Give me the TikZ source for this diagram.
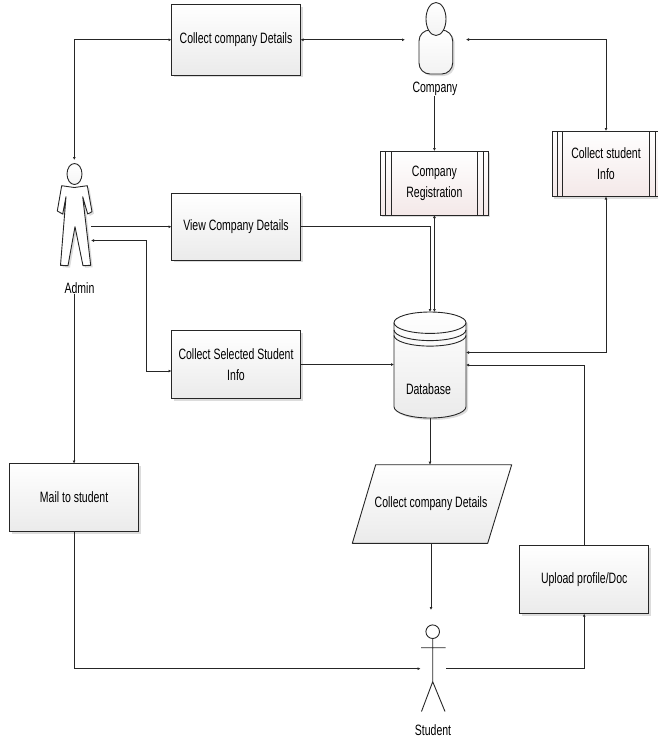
\documentclass[tikz,border=0pt]{standalone}
\usepackage{fontspec}
\setmainfont{Liberation Sans}[FakeStretch=0.7]
\usepackage{tikz}
\usetikzlibrary{arrows.meta,positioning,shadows}

\begin{document}
\begin{tikzpicture}[
  x=1pt, y=1pt,
  node distance=70pt and 20pt,
  every node/.style={font=\fontsize{15}{21}\selectfont, outer sep=0pt},
  soft/.style={drop shadow={shadow xshift=2pt, shadow yshift=-2pt, fill=black!30, opacity=.45}},
  greyfill/.style={top color=white, bottom color=black!8},
  pinkfill/.style={top color=white, bottom color=red!50!black!9},
  box/.style={draw=black!85, line width=1pt, soft, greyfill, minimum width=129pt, minimum height=68pt, align=center, inner sep=2pt},
  barbox/.style={draw=black!85, line width=1pt, soft, pinkfill, minimum width=108pt, align=center, inner sep=2pt,
    path picture={
      \foreach \barx in {5,10.6} {
        \draw[black!85, line width=.9pt] ([xshift=\barx pt]path picture bounding box.north west) -- ([xshift=\barx pt]path picture bounding box.south west);
        \draw[black!85, line width=.9pt] ([xshift=-\barx pt]path picture bounding box.north east) -- ([xshift=-\barx pt]path picture bounding box.south east);
      }
    }},
  holder/.style={inner sep=0pt},
  glyph/.style={draw=black!85, line width=.9pt, line join=round},
  arrow/.style={-{Latex[length=3pt,width=3pt]}, line width=.9pt, black!85},
  twoway/.style={{Latex[length=3pt,width=3pt]}-{Latex[length=3pt,width=3pt]}, line width=.9pt, black!85}
]
\useasboundingbox (0,0) rectangle (657,-740);

% the three people and the store are drawn round empty nodes
\node[holder, minimum width=33.4pt, minimum height=107pt] (admin) at (74.3,-213.5) {};
\node[holder, minimum width=61pt, minimum height=73pt] (company) at (435.5,-39.6) {};
\node[holder, minimum width=25.5pt, minimum height=102pt] (student) at (433.3,-661) {};
\node[holder, minimum width=72pt, minimum height=106pt] (database) at (430,-365) {};

\begin{scope}[shift={(admin.center)}]
  \draw[glyph, fill=white, soft] (-12.6,27.8) -- (0,26) -- (13,27.8) -- (17.7,1.8) -- (13.4,-.5) -- (8.4,16.8)
    -- (16.4,-51.8) -- (8.7,-52.2) -- (.7,-13.2) -- (-6.3,-52.2) -- (-13.8,-51.8) -- (-8.3,16.8)
    -- (-11.6,-.5) -- (-17,2.5) -- cycle;
  \draw[glyph, top color=white, bottom color=black!4] (.2,39.5) ellipse[x radius=7.5, y radius=10.5];
\end{scope}

\begin{scope}[shift={(company.center)}]
  \draw[glyph, top color=white, bottom color=black!5, soft, rounded corners=11pt] (-16.5,9.6) rectangle (17.2,-34.4);
  \draw[glyph, top color=white, bottom color=black!5] (.5,20.6) ellipse[x radius=10, y radius=16.5];
\end{scope}

\begin{scope}[shift={(student.center)}]
  \draw[glyph] (-.6,29.3) circle[radius=6.8];
  \draw[glyph] (-.6,22.5) -- (-.6,-20.7) (-12.3,13.3) -- (12.4,13.3)
    (-11.8,-50.5) -- (-.6,-20.7) -- (11.7,-50.5);
\end{scope}

\begin{scope}[shift={(database.center)}]
  \draw[glyph, greyfill, soft] (-36,42.3) -- (-36,-41.7) arc[start angle=180, end angle=360, x radius=36, y radius=11.3]
    -- (36,42.3) arc[start angle=0, end angle=180, x radius=36, y radius=10.7] -- cycle;
  \draw[glyph] (-36,42.3) arc[start angle=180, end angle=360, x radius=36, y radius=10.7];
  \draw[glyph] (-36,35.1) arc[start angle=180, end angle=360, x radius=36, y radius=10.7];
  \draw[glyph] (-36,29.6) arc[start angle=180, end angle=360, x radius=36, y radius=10.7];
\end{scope}

\path[glyph, greyfill, draw] (375.7,-464.7) -- (511.7,-464.7) -- (487.7,-543.3) -- (352.3,-543.3) -- cycle;

\node[box, minimum height=70.5pt] (collectco) at (236,-39.75) {Collect company Details};
\node[box, minimum height=66.5pt, below=118.5pt of collectco] (viewco) {View Company Details};
\node[box, below=70.5pt of viewco] (selected) {Collect Selected Student\\Info};
\node[box] (mailbox) at (74.1,-497.5) {Mail to student};
\node[box] (upload) at (584.2,-579.7) {Upload profile/Doc};
\node[barbox, minimum height=64pt] (regist) at (434.4,-183) {Company\\Registration};
\node[barbox, minimum height=65.5pt] (studinfo) at (606,-163.75) {Collect student\\Info};
\node[holder, minimum width=111pt, minimum height=78.6pt] (details) at (431,-504) {Collect company Details};

\node[holder] (adminlabel) at (79.5,-288) {Admin};
\node[holder] (companylabel) at (435,-89) {Company};
\node[holder] (studentlabel) at (433,-730) {Student};
\node[holder] (dblabel) at (428.5,-389.5) {Database};

\coordinate (adminin) at ([yshift=-27pt]admin.east);
\coordinate (selin) at ([yshift=-6.5pt]selected.west);
\coordinate (turn) at ([xshift=-25.5pt]selected.west |- adminin);
\coordinate (studentin) at ([yshift=-7.7pt]student.west);
\coordinate (studentout) at ([yshift=-7.7pt]student.east);
\coordinate (dbside) at ([yshift=12.5pt]database.east);

\draw[twoway] (collectco.west) -| (admin.north);
\draw[twoway] (collectco.east) -- (company.west |- collectco.east);
\draw[twoway] (studinfo.north) |- (company.east);
\draw[arrow] (regist.north |- companylabel.south) -- (regist.north);
\draw[twoway] (regist.south) -- (regist.south |- database.north);
\draw[arrow] (admin.east |- viewco.west) -- (viewco.west);
\draw[arrow] (viewco.east) -| (database.north);
\draw[twoway] (adminin) -- (turn) |- (selin);
\draw[arrow] (selected.east) -- (selected.east -| database.west);
\draw[twoway] (studinfo.south) |- (dbside);
\draw[arrow] (upload.north) |- (database.east);
\draw[arrow] (database.south) -- (database.south |- details.north);
\draw[arrow] (details.south) -- (details.south |- student.north);
\draw[arrow] (mailbox.north |- adminlabel.south) -- (mailbox.north);
\draw[arrow] (mailbox.south) |- (studentin);
\draw[arrow] (studentout) -| (upload.south);
\end{tikzpicture}
\end{document}
